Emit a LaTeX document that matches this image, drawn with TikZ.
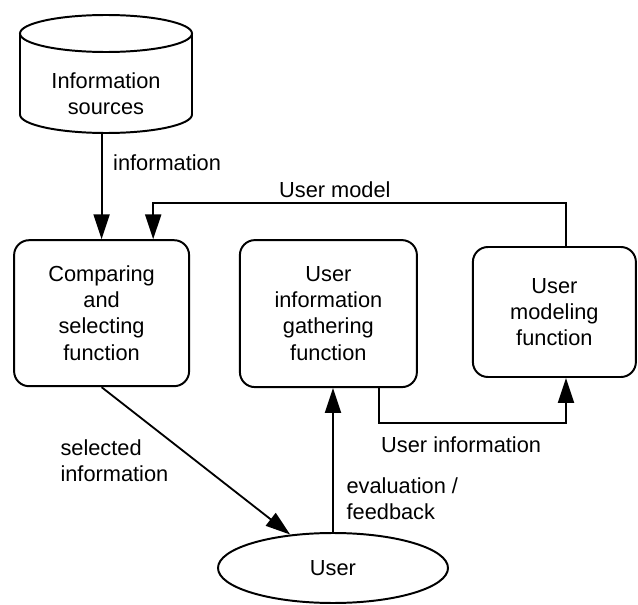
\documentclass[tikz,border=0pt]{standalone}
\usepackage{fontspec}
\setmainfont{Liberation Sans}
\usetikzlibrary{shapes.geometric,arrows.meta}

\begin{document}
\begin{tikzpicture}
\tikzset{every node/.style={font=\fontsize{15.5}{18.5}\selectfont}}
\tikzset{func/.style={draw,line width=1.4pt,rounded corners=0.375cm,align=center,inner sep=0pt}}
\tikzset{arr/.style={line width=1.3pt,-{Triangle[length=0.62cm,width=0.4cm]}}}
\useasboundingbox (0,0) rectangle (15.95,-15.125);

% Information sources (cylinder drawn by hand)
\draw[line width=1.4pt] (2.65,-0.8375) ellipse (2.15 and 0.4625);
\draw[line width=1.4pt] (0.5,-0.8375) -- (0.5,-2.8625) arc[start angle=180,end angle=360,x radius=2.15,y radius=0.4625] -- (4.8,-0.8375);
\node[align=center] (src) at (2.65,-2.35) {Information\\sources};
\coordinate (srcbot) at (2.65,-3.325);

% Nodes (positions taken from the reference layout)
\node[func,minimum width=4.375cm,minimum height=3.65cm] (comp) at (2.54,-7.83) {Comparing\\and\\selecting\\function};
\node[func,minimum width=4.425cm,minimum height=3.675cm] (gather) at (8.21,-7.84) {User\\information\\gathering\\function};
\node[func,minimum width=4.075cm,minimum height=3.25cm] (model) at (13.86,-7.8) {User\\modeling\\function};
\node[ellipse,draw,line width=1.4pt,minimum width=5.75cm,minimum height=1.75cm] (user) at (8.325,-14.2) {User};

% Connectors with labels
\draw[arr] (srcbot -| comp.north) -- node[right=0.15cm,pos=0.28] (lblinfo) {information} (comp.north);
\draw[arr] ([xshift=0.29cm]model.north) -- ++(0,1.075) -| node[above,pos=0.28] (lblmodel) {User model} ([xshift=1.29cm]comp.north);
\draw[arr] ([xshift=1.26cm]gather.south) -- ++(0,-0.875) -| node[below=0.2cm,pos=0.22] (lbluinfo) {User information} ([xshift=0.29cm]model.south);
\draw[arr] (user.north) -- node[right=0.2cm,pos=0.23,align=left] (lblfb) {evaluation /\\feedback} (user.north |- gather.south);
\draw[arr] (comp.south) -- node[left=0.55cm,pos=0.5,align=left] (lblsel) {selected\\information} (user);

\end{tikzpicture}
\end{document}
